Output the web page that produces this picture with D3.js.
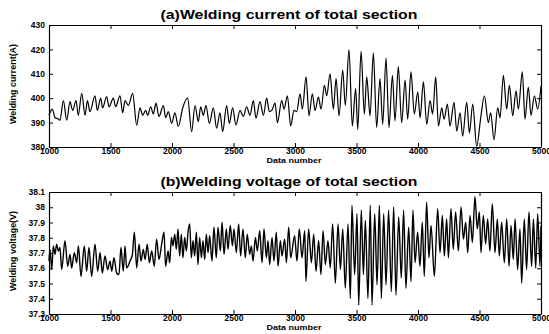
<!DOCTYPE html>
<html><head><meta charset="utf-8">
<script src="https://cdn.jsdelivr.net/npm/d3@7"></script>
<style>body{margin:0;background:#fff}svg{display:block}</style>
</head><body><svg id="c" width="549" height="334"></svg>
<script>
// ---- data (local extremes) ----
const xTicks = [1000,1500,2000,2500,3000,3500,4000,4500,5000];
const currentTicks = [380,390,400,410,420,430];
const voltageTicks = [37.3,37.4,37.5,37.6,37.7,37.8,37.9,38.0,38.1];

const currentX = [1000,1027,1049,1076,1089,1117,1144,1171,1192,1220,1238,1266,1293,1312,1333,1374,1393,1420,1436,1469,1488,1523,1542,1577,1599,1618,1645,1680,1713,1740,1762,1786,1802,1827,1848,1870,1894,1930,1949,1970,1997,2024,2051,2087,2127,2160,2187,2214,2233,2255,2276,2304,2336,2363,2390,2412,2444,2466,2493,2520,2553,2580,2607,2634,2661,2683,2715,2743,2770,2791,
2811,2838,2857,2892,2911,2938,2965,2992,3014,3041,3060,3090,3114,3141,3163,3190,3212,3239,3258,3285,3312,3334,3358,3388,3409,3439,3466,3493,3510,3537,3564,3583,3610,3637,3664,3691,3713,3740,3764,3792,3813,3840,3867,3895,3916,3943,3970,3998,4017,4044,4071,4098,4119,4144,4166,4193,4212,4239,4260,4293,4315,4342,4363,4396,4418,4445,4477,4510,4540,4572,4591,4618,4648,4667,4694,4721,4743,4770,4797,4816,4848,4870,4897,4919,4946,4973,5000];
const currentY = [393,395.5,392,391.5,391,399,391,398.6,395,399,393,402,393,399,394.5,401,395,400,396,400.7,396.5,400,396.5,401,394,399,397,402,389,396,393,395,393,396.5,393.5,398,392.5,397,392,394.5,389.7,394,388.4,396,400,386.3,397,390.4,396.5,393,397,389.7,396,387.7,394,386.3,397,389.7,396,389,395,392.5,396.5,393,399,391.8,398.6,393,400,394.5,
395,398,390,399,395.5,401,388.6,395,394.5,401.8,395.5,408.7,392.8,401.8,395,400.4,395.5,405.3,401,410,395.5,408,392.8,411.5,397,419.9,388.6,403.9,387.2,419.2,393.5,408.7,392.8,418.5,388,408,389.3,416.4,388,409.4,390.7,412.9,390,407.4,391.4,410.8,393.5,402.5,392,406.7,389.3,399,393.5,408.7,388.6,396,391.4,397.6,388.6,398.3,386.5,394,384.4,398.3,385.8,397.6,380.3,392,401,390,394,383,396,392,409.4,395.5,405.3,392.8,403,395.5,410.8,391.4,404.6,393,401,395.5,405];

const voltageX = [1000,1008,1022,1035,1049,1062,1076,1089,1103,1130,1152,1171,1184,1206,1225,1239,1260,1287,1306,1325,1347,1374,1396,1415,1434,1455,1477,1496,1510,1528,1550,1569,1585,1604,1618,1631,1659,1678,1694,1713,1732,1748,1767,1781,1799,1816,1835,1856,1875,1894,1916,1935,1948,
1968,1981,1995,2008,2022,2035,2049,2062,2076,2089,2103,2117,2130,2144,2157,2171,2184,2198,2211,2225,2239,2252,2266,2279,2293,2306,2325,2341,2360,2374,2393,2407,2423,2442,2455,2474,2491,2504,2523,2542,2558,2577,2596,2612,2631,2645,2659,2678,2694,2713,2732,2748,2767,2781,2794,2813,2829,2848,2862,2881,2894,2916,2930,2949,2965,
2997,3016,3035,3057,3079,3089,3111,3133,3152,3171,3192,3211,3228,3247,3268,3287,3306,3328,3350,3369,3388,3409,3431,3450,3463,3485,3504,3518,3539,3556,3572,3593,3612,3626,3648,3667,3686,3702,3721,3740,3761,3783,3802,3821,3843,3864,3883,3902,3924,3943,3959,
3976,3997,4016,4035,4051,4070,4089,4106,4133,4160,4179,4198,4214,4233,4247,4268,4287,4306,4328,4350,4369,4388,4404,4423,4442,4463,4482,4499,4512,4531,4550,4566,4585,4604,4626,4645,4661,4680,4702,4721,4740,4756,4775,4789,4810,4829,4843,4864,4883,4902,4924,4938,4957,4973,4992,5000];
const voltageY = [37.647,37.724,37.591,37.747,37.691,37.758,37.713,37.736,37.591,37.78,37.613,37.691,37.602,37.702,37.636,37.747,37.547,37.747,37.58,37.736,37.547,37.758,37.58,37.702,37.569,37.68,37.591,37.647,37.58,37.669,37.569,37.558,37.736,37.58,37.747,37.602,37.647,37.691,37.836,37.602,37.758,37.647,37.724,37.658,37.758,37.636,37.713,37.613,37.791,37.658,37.758,37.836,37.613,
37.713,37.636,37.802,37.747,37.824,37.724,37.858,37.68,37.824,37.669,37.802,37.713,37.836,37.891,37.669,37.78,37.68,37.836,37.624,37.802,37.669,37.78,37.658,37.824,37.702,37.813,37.647,37.869,37.669,37.869,37.713,37.902,37.691,37.858,37.724,37.88,37.747,37.858,37.702,37.891,37.68,37.858,37.669,37.824,37.691,37.747,37.647,37.802,37.713,37.847,37.636,37.858,37.669,37.78,37.624,37.802,37.647,37.836,37.613,37.78,37.68,37.791,37.636,37.869,37.669,
37.813,37.647,37.858,37.669,37.847,37.513,37.858,37.636,37.824,37.58,37.78,37.558,37.847,37.624,37.78,37.602,37.891,37.502,37.891,37.591,37.858,37.469,37.891,37.402,38.013,37.558,37.958,37.358,37.98,37.558,37.913,37.402,38.013,37.358,37.958,37.491,38.013,37.402,37.958,37.491,37.98,37.447,38.002,37.424,37.936,37.536,37.98,37.469,37.869,37.513,37.98,
37.636,37.836,37.613,37.902,37.547,38.033,37.669,37.88,37.547,37.991,37.702,37.947,37.68,37.924,37.669,37.991,37.724,37.969,37.713,38.002,37.791,37.902,37.702,37.947,37.769,38.069,37.858,37.969,37.702,37.947,37.758,37.924,37.713,38.024,37.702,37.924,37.68,37.902,37.636,37.924,37.613,37.88,37.658,37.924,37.591,37.858,37.502,37.924,37.591,37.969,37.613,37.924,37.602,37.958,37.613,37.88];

// ---- drawing ----
const svg = d3.select("#c");
const L = 49, R = 541;
const font = "'Liberation Sans', Arial, sans-serif";

function panel(o) {
  const x = d3.scaleLinear().domain([1000, 5000]).range([L, R]);
  const y = d3.scaleLinear().domain(o.domain).range([o.bottom, o.top]);
  const g = svg.append("g");

  const styleAxis = sel => {
    sel.selectAll("path.domain").attr("stroke", "#000").attr("stroke-width", 1.2);
    sel.selectAll(".tick line").attr("stroke", "#000").attr("stroke-width", 1);
    sel.selectAll("text").attr("font-family", font).attr("font-weight", "bold")
       .attr("font-size", 8.5).attr("fill", "#000");
  };

  g.append("g").attr("transform", `translate(0,${o.bottom})`)
    .call(d3.axisBottom(x).tickValues(xTicks).tickSizeInner(-4).tickSizeOuter(0).tickPadding(1).tickFormat(d3.format("d")))
    .call(styleAxis);
  g.append("g").attr("transform", `translate(0,${o.top})`)
    .call(d3.axisTop(x).tickValues(xTicks).tickSizeInner(-4).tickSizeOuter(0).tickFormat(""))
    .call(styleAxis);
  g.append("g").attr("transform", `translate(${L},0)`)
    .call(d3.axisLeft(y).tickValues(o.ticks).tickSizeInner(-4).tickSizeOuter(0).tickPadding(4).tickFormat(o.fmt))
    .call(styleAxis);
  g.append("g").attr("transform", `translate(${R},0)`)
    .call(d3.axisRight(y).tickValues(o.ticks).tickSizeInner(-4).tickSizeOuter(0).tickFormat(""))
    .call(styleAxis);

  const pts = o.xs.map((v, i) => [v, o.ys[i]]);
  g.append("path").datum(pts)
    .attr("fill", "none").attr("stroke", "#000").attr("stroke-width", o.sw)
    .attr("stroke-linejoin", "round")
    .attr("d", d3.line().x(d => x(d[0])).y(d => y(d[1])).curve(d3.curveMonotoneX));

  svg.append("text").attr("x", 289).attr("y", o.top - 6).attr("text-anchor", "middle")
    .attr("font-family", font).attr("font-weight", "bold").attr("font-size", 13)
    .attr("textLength", 257).attr("lengthAdjust", "spacingAndGlyphs").text(o.title);
  svg.append("text").attr("transform", `translate(16,${(o.top + o.bottom) / 2 - 2}) rotate(-90)`)
    .attr("text-anchor", "middle").attr("font-family", font).attr("font-weight", "bold").attr("font-size", 9)
    .attr("textLength", 80).attr("lengthAdjust", "spacingAndGlyphs").text(o.ylabel);
  svg.append("text").attr("x", 294).attr("y", o.bottom + 16).attr("text-anchor", "middle")
    .attr("font-family", font).attr("font-weight", "bold").attr("font-size", 7.5)
    .attr("textLength", 55).attr("lengthAdjust", "spacingAndGlyphs").text("Data number");
}

panel({ top: 25, bottom: 147, domain: [380, 430], ticks: currentTicks, fmt: d3.format("d"),
  xs: currentX, ys: currentY, sw: 1.2,
  title: "(a)Welding current of total section", ylabel: "Welding current(A)" });
panel({ top: 192, bottom: 314, domain: [37.3, 38.1], ticks: voltageTicks,
  fmt: d => (Math.abs(d - 38) < 1e-9 ? "38" : d.toFixed(1)),
  xs: voltageX, ys: voltageY, sw: 1.4,
  title: "(b)Welding voltage of total section", ylabel: "Welding voltage(V)" });
</script>
</body></html>
